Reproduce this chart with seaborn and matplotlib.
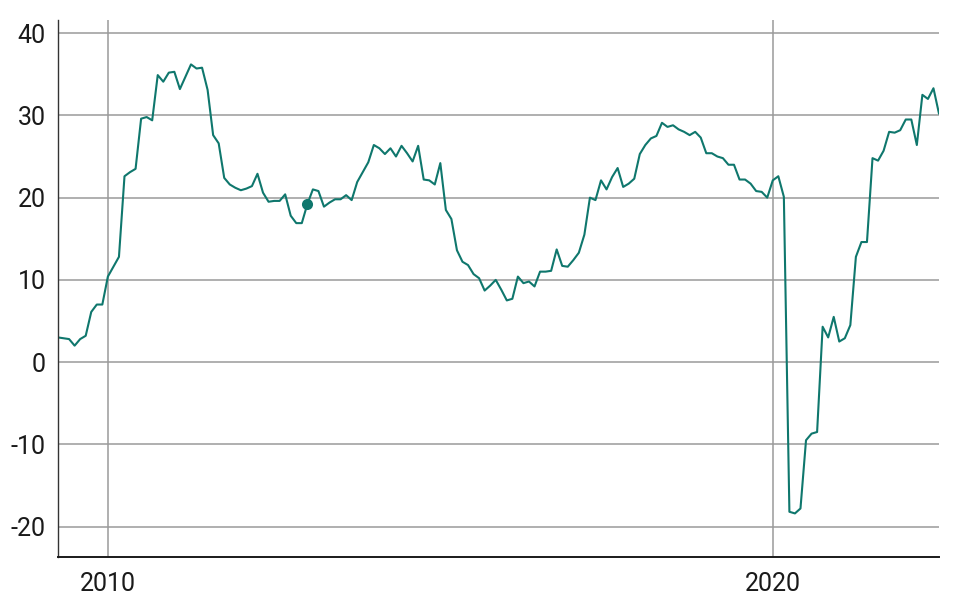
import numpy as np
import pandas as pd
import matplotlib
matplotlib.use("Agg")
import matplotlib.pyplot as plt
import seaborn as sns

# Monthly values, April 2009 - July 2022
start_year = 2009
start_month = 4
v2009 = [3.0, 2.9, 2.8, 2.0, 2.8, 3.2, 6.1, 7.0, 7.0]
v2010 = [10.4, 11.6, 12.8, 22.6, 23.1, 23.5, 29.6, 29.8, 29.4, 34.9, 34.1, 35.2]
v2011 = [35.3, 33.2, 34.7, 36.2, 35.7, 35.8, 33.1, 27.6, 26.6, 22.4, 21.6, 21.2]
v2012 = [20.9, 21.1, 21.4, 22.9, 20.6, 19.5, 19.6, 19.6, 20.4, 17.8, 16.9, 16.9]
v2013 = [19.2, 21.0, 20.8, 18.9, 19.4, 19.8, 19.8, 20.3, 19.7, 21.9, 23.1, 24.3]
v2014 = [26.4, 26.0, 25.3, 26.0, 25.0, 26.3, 25.4, 24.4, 26.3, 22.2, 22.1, 21.6]
v2015 = [24.2, 18.5, 17.4, 13.6, 12.2, 11.8, 10.7, 10.2, 8.7, 9.3, 10.0, 8.8]
v2016 = [7.5, 7.7, 10.4, 9.6, 9.8, 9.2, 11.0, 11.0, 11.1, 13.7, 11.7, 11.6]
v2017 = [12.4, 13.3, 15.5, 20.0, 19.7, 22.1, 21.0, 22.5, 23.6, 21.3, 21.7, 22.3]
v2018 = [25.3, 26.4, 27.2, 27.5, 29.1, 28.6, 28.8, 28.3, 28.0, 27.6, 28.0, 27.3]
v2019 = [25.4, 25.4, 25.0, 24.8, 24.0, 24.0, 22.2, 22.2, 21.7, 20.8, 20.7, 20.0]
v2020 = [22.1, 22.6, 20.1, -18.2, -18.4, -17.8, -9.5, -8.7, -8.5, 4.3, 3.0, 5.5]
v2021 = [2.5, 2.9, 4.5, 12.8, 14.6, 14.6, 24.8, 24.5, 25.7, 28.0, 27.9, 28.2]
v2022 = [29.5, 29.5, 26.4, 32.5, 32.0, 33.3, 30.2]

highlight_year = 2013
highlight_month = 1

y_ticks = [-20, -10, 0, 10, 20, 30, 40]
x_ticks = [2010, 2020]
x_tick_labels = ["2010", "2020"]

values = (v2009 + v2010 + v2011 + v2012 + v2013 + v2014 + v2015 + v2016
          + v2017 + v2018 + v2019 + v2020 + v2021 + v2022)
idx = np.arange(len(values))
t = start_year + (start_month - 1 + idx) / 12.0
df = pd.DataFrame({"t": t, "v": values})

hl_t = highlight_year + (highlight_month - 1) / 12.0
hl = df.loc[np.isclose(df["t"], hl_t)]

sns.set_theme(style="white")
plt.rcParams["font.family"] = ["Roboto", "DejaVu Sans"]

color = "#0f776d"
fig = plt.figure(figsize=(9.6, 6.04), dpi=100)
ax = fig.add_axes([58 / 960, 1 - 557 / 604, (939 - 58) / 960, (557 - 20) / 604])

sns.lineplot(data=df, x="t", y="v", ax=ax, color=color, linewidth=1.5)
sns.scatterplot(data=hl, x="t", y="v", ax=ax, color=color, s=64,
                edgecolor=color, linewidth=0, zorder=5)

ax.set_xlim(df["t"].iloc[0], df["t"].iloc[-1])
ax.set_ylim(-23.7, 41.6)
ax.set_yticks(y_ticks)
ax.set_yticklabels([str(v) for v in y_ticks])
ax.set_xticks(x_ticks)
ax.set_xticklabels(x_tick_labels)
ax.grid(True, color="#9a9a9a", linewidth=1.1)
ax.set_axisbelow(True)
ax.set_xlabel("")
ax.set_ylabel("")
ax.tick_params(axis="both", length=0, labelsize=18, colors="#1a1a1a")
ax.tick_params(axis="y", pad=9)
ax.tick_params(axis="x", pad=11)
for s in ["top", "right"]:
    ax.spines[s].set_visible(False)
ax.spines["left"].set_color("#333333")
ax.spines["left"].set_linewidth(1.0)
ax.spines["bottom"].set_color("#1a1a1a")
ax.spines["bottom"].set_linewidth(1.4)

fig.savefig("out.png", dpi=100)
